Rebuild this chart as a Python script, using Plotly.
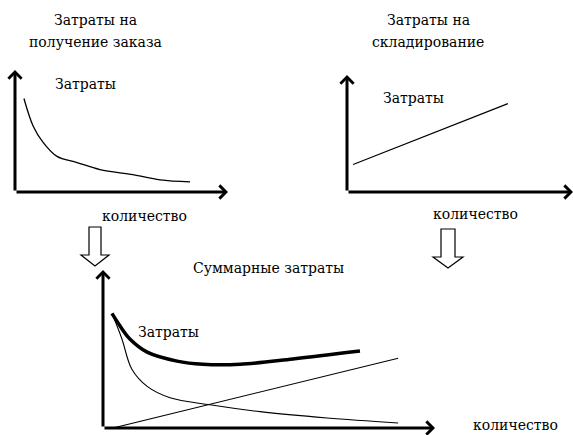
import plotly.graph_objects as go

W, H = 573, 435

# ---- data (quantity vs cost, arbitrary units) ----
order_q = [0.42, 0.85, 1.31, 1.97, 2.91, 3.99, 5.54, 6.81, 8.22]
order_cost = [4.6, 3.25, 2.45, 1.75, 1.45, 1.1, 0.85, 0.6, 0.5]

store_q = [0.27, 7.12]
store_cost = [1.41, 4.53]

total_q = [0.27, 0.51, 0.81, 1.33, 2.23, 3.01, 4.13, 5.72, 7.74]
total_cost = [4.35, 3.88, 3.38, 2.88, 2.54, 2.42, 2.42, 2.62, 2.92]

sum_order_q = [0.30, 0.57, 0.87, 1.33, 2.02, 3.22, 4.73, 6.75, 8.89]
sum_order_cost = [4.27, 3.38, 2.23, 1.58, 1.15, 0.88, 0.62, 0.38, 0.19]

sum_store_q = [0.30, 8.89]
sum_store_cost = [0.0, 2.65]

title_tl = ["Затраты на", "получение заказа"]
title_tr = ["Затраты на", "складирование"]
title_b = "Суммарные затраты"
y_label = "Затраты"
x_label = "количество"

FONT = "DejaVu Serif"
FS = 14


def px(x):
    return x / W


def py(y):
    return 1 - y / H


fig = go.Figure()

# traces
fig.add_trace(go.Scatter(x=order_q, y=order_cost, mode="lines", line=dict(color="black", width=1.3, shape="spline"),
                         xaxis="x", yaxis="y", showlegend=False, hoverinfo="skip"))
fig.add_trace(go.Scatter(x=store_q, y=store_cost, mode="lines", line=dict(color="black", width=1.2),
                         xaxis="x2", yaxis="y2", showlegend=False, hoverinfo="skip"))
fig.add_trace(go.Scatter(x=total_q, y=total_cost, mode="lines", line=dict(color="black", width=3.5, shape="spline"),
                         xaxis="x3", yaxis="y3", showlegend=False, hoverinfo="skip"))
fig.add_trace(go.Scatter(x=sum_order_q, y=sum_order_cost, mode="lines", line=dict(color="black", width=1.1, shape="spline"),
                         xaxis="x3", yaxis="y3", showlegend=False, hoverinfo="skip"))
fig.add_trace(go.Scatter(x=sum_store_q, y=sum_store_cost, mode="lines", line=dict(color="black", width=1.1),
                         xaxis="x3", yaxis="y3", showlegend=False, hoverinfo="skip"))

ax_common = dict(visible=False, range=[0, 10], fixedrange=True)
ay_common = dict(visible=False, range=[0, 6], fixedrange=True)

fig.update_layout(
    width=W, height=H,
    margin=dict(l=0, r=0, t=0, b=0, autoexpand=False),
    paper_bgcolor="white", plot_bgcolor="rgba(0,0,0,0)",
    xaxis=dict(domain=[px(15), px(228)], anchor="y", **ax_common),
    yaxis=dict(domain=[py(192), py(70)], anchor="x", **ay_common),
    xaxis2=dict(domain=[px(347), px(573)], anchor="y2", **ax_common),
    yaxis2=dict(domain=[py(192), py(75)], anchor="x2", **ay_common),
    xaxis3=dict(domain=[px(103), px(435)], anchor="y3", **ax_common),
    yaxis3=dict(domain=[py(428), py(270)], anchor="x3", **ay_common),
    showlegend=False,
)

annotations = []
# axis arrows for each panel
for xa, ya in [("x", "y"), ("x2", "y2"), ("x3", "y3")]:
    for tip in [(10, 0), (0, 6)]:
        annotations.append(dict(
            x=tip[0], y=tip[1], ax=0, ay=0, xref=xa, yref=ya, axref=xa, ayref=ya,
            text="", showarrow=True, arrowhead=4, arrowsize=0.85, arrowwidth=3, arrowcolor="black",
            standoff=0, startstandoff=0))

font = dict(family=FONT, size=FS, color="black")
c = dict(showarrow=False, font=font, xanchor="center", yanchor="middle")

# labels in data coordinates
annotations += [
    dict(x=3.29, y=5.3, xref="x", yref="y", text=y_label, **c),
    dict(x=2.96, y=4.84, xref="x2", yref="y2", text=y_label, **c),
    dict(x=1.96, y=3.65, xref="x3", yref="y3", text=y_label, **c),
]
# quantity labels and titles (paper coordinates)
annotations += [
    dict(x=px(144), y=py(216), xref="paper", yref="paper", text=x_label, **c),
    dict(x=px(475), y=py(214), xref="paper", yref="paper", text=x_label, **c),
    dict(x=px(515), y=py(425), xref="paper", yref="paper", text=x_label, **c),
    dict(x=px(95), y=py(20), xref="paper", yref="paper", text=title_tl[0], **c),
    dict(x=px(95), y=py(42), xref="paper", yref="paper", text=title_tl[1], **c),
    dict(x=px(428), y=py(20), xref="paper", yref="paper", text=title_tr[0], **c),
    dict(x=px(428), y=py(42), xref="paper", yref="paper", text=title_tr[1], **c),
    dict(x=px(268), y=py(268), xref="paper", yref="paper", text=title_b, **c),
]
fig.update_layout(annotations=annotations)


# hollow down arrows (decorations)
def hollow_arrow(cx, top, base, tip, sw, hw):
    pts = [(cx - sw, top), (cx + sw, top), (cx + sw, base), (cx + hw, base), (cx, tip),
           (cx - hw, base), (cx - sw, base)]
    path = "M " + " L ".join(f"{px(x):.5f},{py(y):.5f}" for x, y in pts) + " Z"
    return dict(type="path", xref="paper", yref="paper", path=path,
                line=dict(color="black", width=1.2), fillcolor="white")


fig.update_layout(shapes=[
    hollow_arrow(95, 227, 255, 266, 6, 14),
    hollow_arrow(448, 229, 257, 268, 7, 15),
])

fig.write_html("out.html", config={"displayModeBar": False, "staticPlot": True},
               post_script="document.body.style.margin='0';document.body.style.overflow='hidden';")
